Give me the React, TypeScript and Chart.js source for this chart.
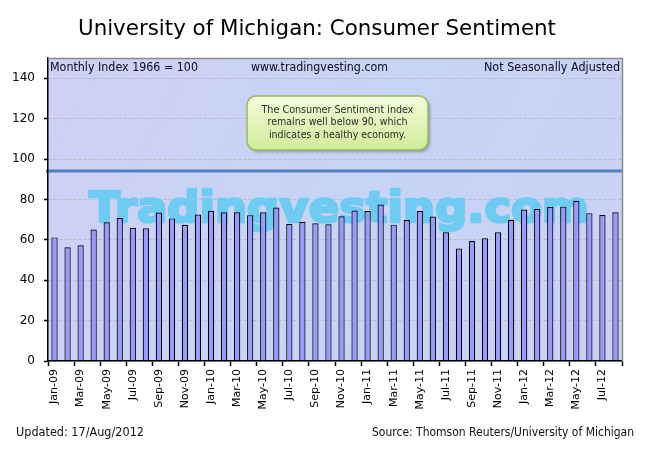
import React, { useEffect, useRef } from "react";
import { Chart, registerables } from "chart.js";

Chart.register(...registerables);

const months = [
  "Jan-09", "Feb-09", "Mar-09", "Apr-09", "May-09", "Jun-09", "Jul-09", "Aug-09", "Sep-09", "Oct-09", "Nov-09", "Dec-09",
  "Jan-10", "Feb-10", "Mar-10", "Apr-10", "May-10", "Jun-10", "Jul-10", "Aug-10", "Sep-10", "Oct-10", "Nov-10", "Dec-10",
  "Jan-11", "Feb-11", "Mar-11", "Apr-11", "May-11", "Jun-11", "Jul-11", "Aug-11", "Sep-11", "Oct-11", "Nov-11", "Dec-11",
  "Jan-12", "Feb-12", "Mar-12", "Apr-12", "May-12", "Jun-12", "Jul-12", "Aug-12",
];

const sentiment = [
  61.2, 56.3, 57.3, 65.1, 68.7, 70.8, 66.0, 65.7, 73.5, 70.6, 67.4, 72.5,
  74.4, 73.6, 73.6, 72.2, 73.6, 76.0, 67.8, 68.9, 68.2, 67.7, 71.6, 74.5,
  74.2, 77.5, 67.5, 69.8, 74.3, 71.5, 63.7, 55.7, 59.5, 60.8, 63.7, 69.9,
  75.0, 75.3, 76.2, 76.4, 79.3, 73.2, 72.3, 73.6,
];

const yTickValues = [0, 20, 40, 60, 80, 100, 120, 140];
const yMax = 150;
const referenceLevel = 94;

const titleText = "University of Michigan: Consumer Sentiment";
const headerLeft = "Monthly Index 1966 = 100";
const headerCenter = "www.tradingvesting.com";
const headerRight = "Not Seasonally Adjusted";
const watermarkText = "Tradingvesting.com";
const noteLines = [
  "The Consumer Sentiment index",
  "remains well below 90, which",
  "indicates a healthy economy.",
];
const footerLeft = "Updated: 17/Aug/2012";
const footerRight = "Source: Thomson Reuters/University of Michigan";

const FONT = '"DejaVu Sans", Verdana, sans-serif';

const decoPlugin = {
  id: "deco",
  beforeDraw(chart: any) {
    const { ctx, chartArea: a } = chart;
    ctx.save();
    ctx.fillStyle = "#ffffff";
    ctx.fillRect(0, 0, chart.width, chart.height);
    const g = ctx.createLinearGradient(a.left, a.top, a.right, a.bottom);
    g.addColorStop(0, "#cfd0f5");
    g.addColorStop(0.5, "#c6d4f6");
    g.addColorStop(1, "#cbd1f4");
    ctx.fillStyle = g;
    ctx.fillRect(a.left, a.top, a.right - a.left, a.bottom - a.top);
    ctx.restore();
  },
  beforeDatasetsDraw(chart: any) {
    const { ctx } = chart;
    ctx.save();
    ctx.font = `bold 42px ${FONT}`;
    const w = ctx.measureText(watermarkText).width;
    const sx = 500 / w;
    ctx.translate(89, 222);
    ctx.scale(sx, 1);
    ctx.fillStyle = "#6ecbf2";
    ctx.strokeStyle = "#6ecbf2";
    ctx.lineWidth = 2.5;
    ctx.lineJoin = "round";
    ctx.textBaseline = "alphabetic";
    ctx.textAlign = "left";
    ctx.strokeText(watermarkText, 0, 0);
    ctx.fillText(watermarkText, 0, 0);
    ctx.restore();
  },
  afterDatasetsDraw(chart: any) {
    const { ctx, chartArea: a, scales } = chart;
    const y = scales.y.getPixelForValue(referenceLevel);
    ctx.save();
    ctx.strokeStyle = "#4f7fbd";
    ctx.lineWidth = 3;
    ctx.beginPath();
    ctx.moveTo(a.left - 2, y);
    ctx.lineTo(a.right, y);
    ctx.stroke();

    // note box
    const bx = 247, by = 96, bw = 181, bh = 54;
    ctx.save();
    ctx.shadowColor = "rgba(0,0,0,0.3)";
    ctx.shadowOffsetX = 2;
    ctx.shadowOffsetY = 2;
    ctx.shadowBlur = 3;
    const grad = ctx.createLinearGradient(0, by, 0, by + bh);
    grad.addColorStop(0, "#f5fcdc");
    grad.addColorStop(1, "#d0ec98");
    ctx.fillStyle = grad;
    ctx.beginPath();
    ctx.roundRect(bx, by, bw, bh, 9);
    ctx.fill();
    ctx.restore();
    ctx.strokeStyle = "#9bbb59";
    ctx.lineWidth = 1.5;
    ctx.beginPath();
    ctx.roundRect(bx, by, bw, bh, 9);
    ctx.stroke();
    ctx.fillStyle = "#2a2a2a";
    ctx.font = `11px ${FONT}`;
    ctx.textAlign = "center";
    ctx.textBaseline = "middle";
    const widths = [152, 140, 137];
    noteLines.forEach((t, i) => {
      ctx.fillText(t, bx + bw / 2, by + 14 + i * 12.5, widths[i]);
    });
    ctx.restore();
  },
  afterDraw(chart: any) {
    const { ctx, chartArea: a } = chart;
    ctx.save();
    // frame top/right
    ctx.strokeStyle = "#8a8a8a";
    ctx.lineWidth = 1.5;
    ctx.beginPath();
    ctx.moveTo(a.left, a.top + 0.5);
    ctx.lineTo(a.right + 0.5, a.top + 0.5);
    ctx.lineTo(a.right + 0.5, a.bottom);
    ctx.stroke();

    // title
    ctx.fillStyle = "#000000";
    ctx.font = `22px ${FONT}`;
    ctx.textAlign = "center";
    ctx.textBaseline = "alphabetic";
    ctx.fillText(titleText, 317, 35, 478);

    // header texts inside plot
    ctx.font = `12px ${FONT}`;
    ctx.fillStyle = "#0a0a1e";
    ctx.textBaseline = "middle";
    ctx.textAlign = "left";
    ctx.fillText(headerLeft, 50, 68, 148);
    ctx.textAlign = "center";
    ctx.fillText(headerCenter, 319.5, 68, 137);
    ctx.textAlign = "right";
    ctx.fillText(headerRight, 620, 68, 136);

    // footer
    ctx.font = `12px ${FONT}`;
    ctx.fillStyle = "#111111";
    ctx.textAlign = "left";
    ctx.fillText(footerLeft, 16, 433, 128);
    ctx.textAlign = "right";
    ctx.fillText(footerRight, 634, 433, 262);
    ctx.restore();
  },
};

export default function App() {
  const ref = useRef<HTMLCanvasElement | null>(null);

  useEffect(() => {
    document.body.style.margin = "0";
    const canvas = ref.current;
    if (!canvas) return;
    const chart = new Chart(canvas, {
      type: "bar",
      data: {
        labels: months,
        datasets: [
          {
            label: "Consumer Sentiment",
            data: sentiment,
            backgroundColor: "#9999ff",
            borderColor: "#000000",
            borderWidth: 1.2,
            barPercentage: 0.48,
            categoryPercentage: 1,
          },
        ],
      },
      options: {
        responsive: false,
        animation: false,
        devicePixelRatio: 1,
        layout: { padding: { top: 58, right: 28, left: 0, bottom: 0 } },
        plugins: {
          legend: { display: false },
          title: { display: false },
          tooltip: { enabled: false },
        },
        scales: {
          x: {
            type: "category",
            offset: true,
            afterFit: (s: any) => {
              s.height = 94;
            },
            grid: {
              offset: true,
              drawOnChartArea: false,
              drawTicks: true,
              tickLength: 5,
              tickWidth: 1.5,
              tickColor: (c: any) =>
                c.index === undefined || c.index % 2 === 0 ? "#000000" : "rgba(0,0,0,0)",
            },
            border: { display: true, color: "#000000", width: 1.5, z: 1 },
            ticks: {
              autoSkip: false,
              minRotation: 90,
              maxRotation: 90,
              padding: 3,
              color: "#000000",
              font: { family: FONT, size: 11 },
              callback: (_v: any, i: number) => (i % 2 === 0 ? months[i] : ""),
            },
          },
          y: {
            min: 0,
            max: yMax,
            afterFit: (s: any) => {
              s.width = 48;
            },
            afterBuildTicks: (s: any) => {
              s.ticks = yTickValues.map((v) => ({ value: v }));
            },
            grid: {
              color: "#b9b9c4",
              lineWidth: 1,
              drawTicks: true,
              tickLength: 4,
              tickWidth: 1.5,
              tickColor: "#000000",
              tickBorderDash: [],
            },
            border: { display: true, color: "#000000", width: 1.5, dash: [3, 2], z: 1 },
            ticks: {
              padding: 9,
              color: "#000000",
              font: { family: FONT, size: 12 },
              callback: (v: any) => String(v),
            },
          },
        },
      },
      plugins: [decoPlugin],
    });
    return () => chart.destroy();
  }, []);

  return (
    <div style={{ width: 650, height: 455 }}>
      <canvas ref={ref} width={650} height={455} style={{ display: "block" }} />
    </div>
  );
}
